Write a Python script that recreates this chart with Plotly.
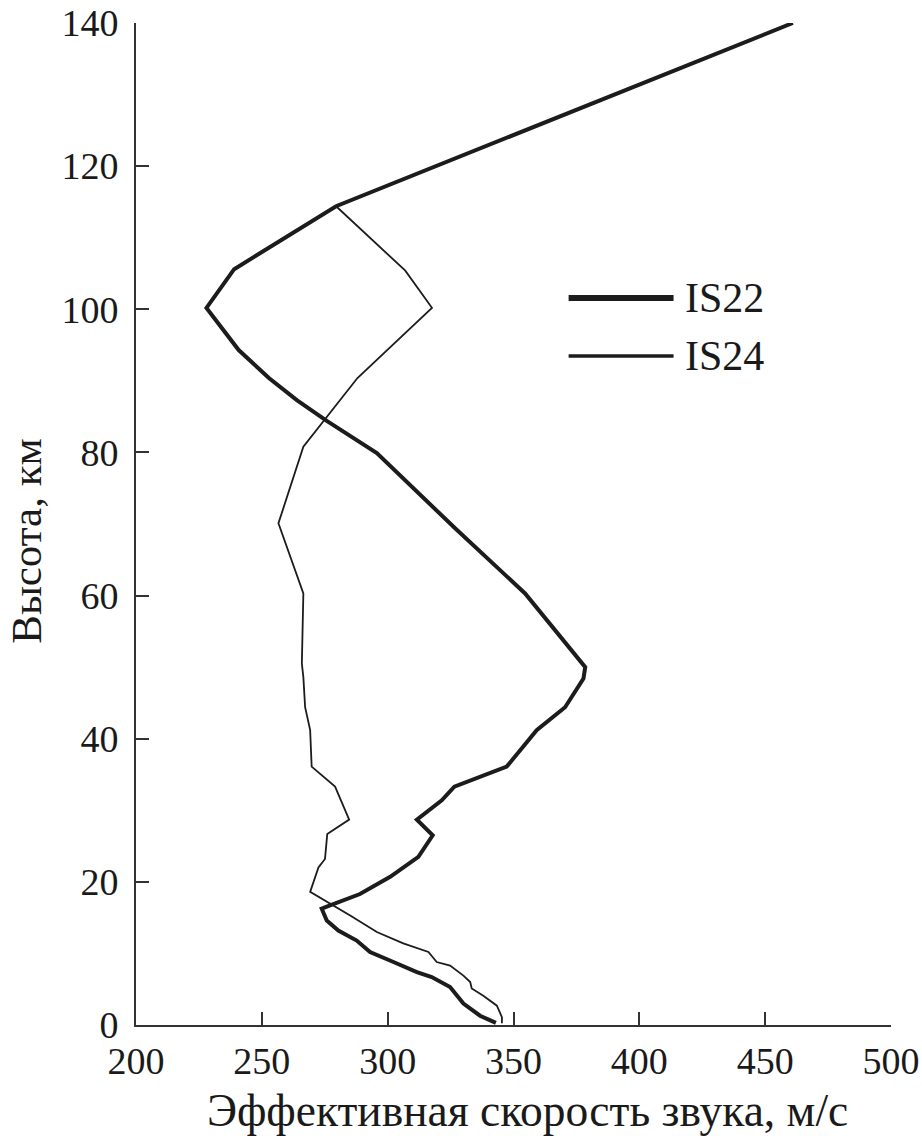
import plotly.graph_objects as go

# Effective sound speed profiles (m/s) vs altitude (km)
is22_alt = [0.3, 1.3, 3.0, 5.3, 6.7, 7.4, 8.8, 10.2, 11.8, 13.2, 14.6, 16.25, 16.7, 18.3, 20.7,
            23.5, 26.5, 28.7, 31.4, 33.3, 36.1, 41.2, 44.4, 48.4, 50.0, 60.3, 69.4, 79.9, 84.4,
            87.3, 90.4, 94.3, 100.2, 105.6, 114.4, 140.0]
is22_speed = [343.0, 336.7, 330.1, 324.8, 317.5, 311.6, 302.3, 293.0, 287.7, 280.4, 275.8, 273.8,
              277.1, 289.0, 301.0, 312.2, 317.9, 311.6, 321.5, 326.5, 347.3, 359.2, 370.5, 377.8,
              378.5, 354.6, 326.8, 295.7, 275.8, 263.9, 252.8, 240.8, 228.0, 239.0, 279.5, 461.0]

is24_alt = [0.25, 1.1, 2.7, 4.1, 5.1, 6.0, 6.9, 8.3, 8.8, 10.2, 11.4, 13.0, 15.3, 17.0, 18.6,
            22.0, 23.2, 26.7, 28.7, 33.3, 36.1, 41.2, 44.4, 48.6, 50.5, 60.3, 70.1, 80.8, 87.3,
            90.4, 100.2, 105.4, 114.4, 140.0]
is24_speed = [345.4, 345.4, 343.4, 338.0, 333.4, 332.8, 330.1, 324.8, 319.5, 316.2, 306.2, 295.7,
              285.1, 277.1, 269.2, 272.5, 275.1, 276.0, 284.7, 279.1, 269.8, 269.2, 267.2, 266.5,
              265.9, 266.5, 256.6, 266.5, 281.1, 288.0, 317.6, 307.0, 279.5, 461.0]

series_names = ["IS22", "IS24"]
x_ticks = [200, 250, 300, 350, 400, 450, 500]
y_ticks = [0, 20, 40, 60, 80, 100, 120, 140]
x_title = "Эффективная скорость звука, м/с"
y_title = "Высота, км"

FONT = "Liberation Serif, Times New Roman, serif"
LINE_COLOR = "#1c1c1c"
AXIS_COLOR = "#333333"
TEXT_COLOR = "#1a1a1a"

fig = go.Figure()
fig.add_trace(go.Scatter(x=is24_speed, y=is24_alt, mode="lines", name=series_names[1],
                         line=dict(color=LINE_COLOR, width=1.8), showlegend=False))
fig.add_trace(go.Scatter(x=is22_speed, y=is22_alt, mode="lines", name=series_names[0],
                         line=dict(color=LINE_COLOR, width=4.0), showlegend=False))

# Custom legend (long sample lines as in the original)
legend_items = [(series_names[0], 6.0, 0.7255), (series_names[1], 3.5, 0.6677)]
for name, w, yp in legend_items:
    fig.add_shape(type="line", xref="paper", yref="paper", x0=0.573, x1=0.712, y0=yp, y1=yp,
                  line=dict(color=LINE_COLOR, width=w))
    fig.add_annotation(xref="paper", yref="paper", x=0.725, y=yp, text=name, showarrow=False,
                       xanchor="left", yanchor="middle",
                       font=dict(family=FONT, size=42, color=TEXT_COLOR))

# Axis titles (placed as in the original, slightly off-centre)
fig.add_annotation(xref="paper", yref="paper", x=0.518, y=-0.085, text=x_title,
                   showarrow=False, xanchor="center", yanchor="middle",
                   font=dict(family=FONT, size=45.5, color=TEXT_COLOR))
fig.add_annotation(xref="paper", yref="paper", x=-0.146, y=0.483, text=y_title,
                   showarrow=False, xanchor="center", yanchor="middle", textangle=-90,
                   borderpad=0,
                   font=dict(family=FONT, size=43, color=TEXT_COLOR))

fig.update_layout(
    width=922, height=1141,
    margin=dict(l=136, r=31, t=23, b=116),
    paper_bgcolor="white", plot_bgcolor="white",
    font=dict(family=FONT, size=38, color=TEXT_COLOR),
)
fig.update_xaxes(
    range=[200, 500], tickvals=x_ticks, ticktext=[str(v) for v in x_ticks],
    automargin=False, ticklabeloverflow="allow",
    showgrid=False, zeroline=False, showline=True, linecolor=AXIS_COLOR, linewidth=2,
    ticks="inside", ticklen=13, tickwidth=2, tickcolor=AXIS_COLOR,
    tickfont=dict(family=FONT, size=38, color=TEXT_COLOR), ticklabelstandoff=1,
)
fig.update_yaxes(
    range=[0, 140], tickvals=y_ticks, ticktext=[str(v) for v in y_ticks],
    automargin=False, ticklabeloverflow="allow",
    showgrid=False, zeroline=False, showline=True, linecolor=AXIS_COLOR, linewidth=2,
    ticks="inside", ticklen=13, tickwidth=2, tickcolor=AXIS_COLOR,
    tickfont=dict(family=FONT, size=38, color=TEXT_COLOR), ticklabelstandoff=8,
)

fig.write_html(
    "out.html",
    config={"displayModeBar": False},
    post_script="document.body.style.margin='0px'; document.body.style.overflow='hidden';",
)
